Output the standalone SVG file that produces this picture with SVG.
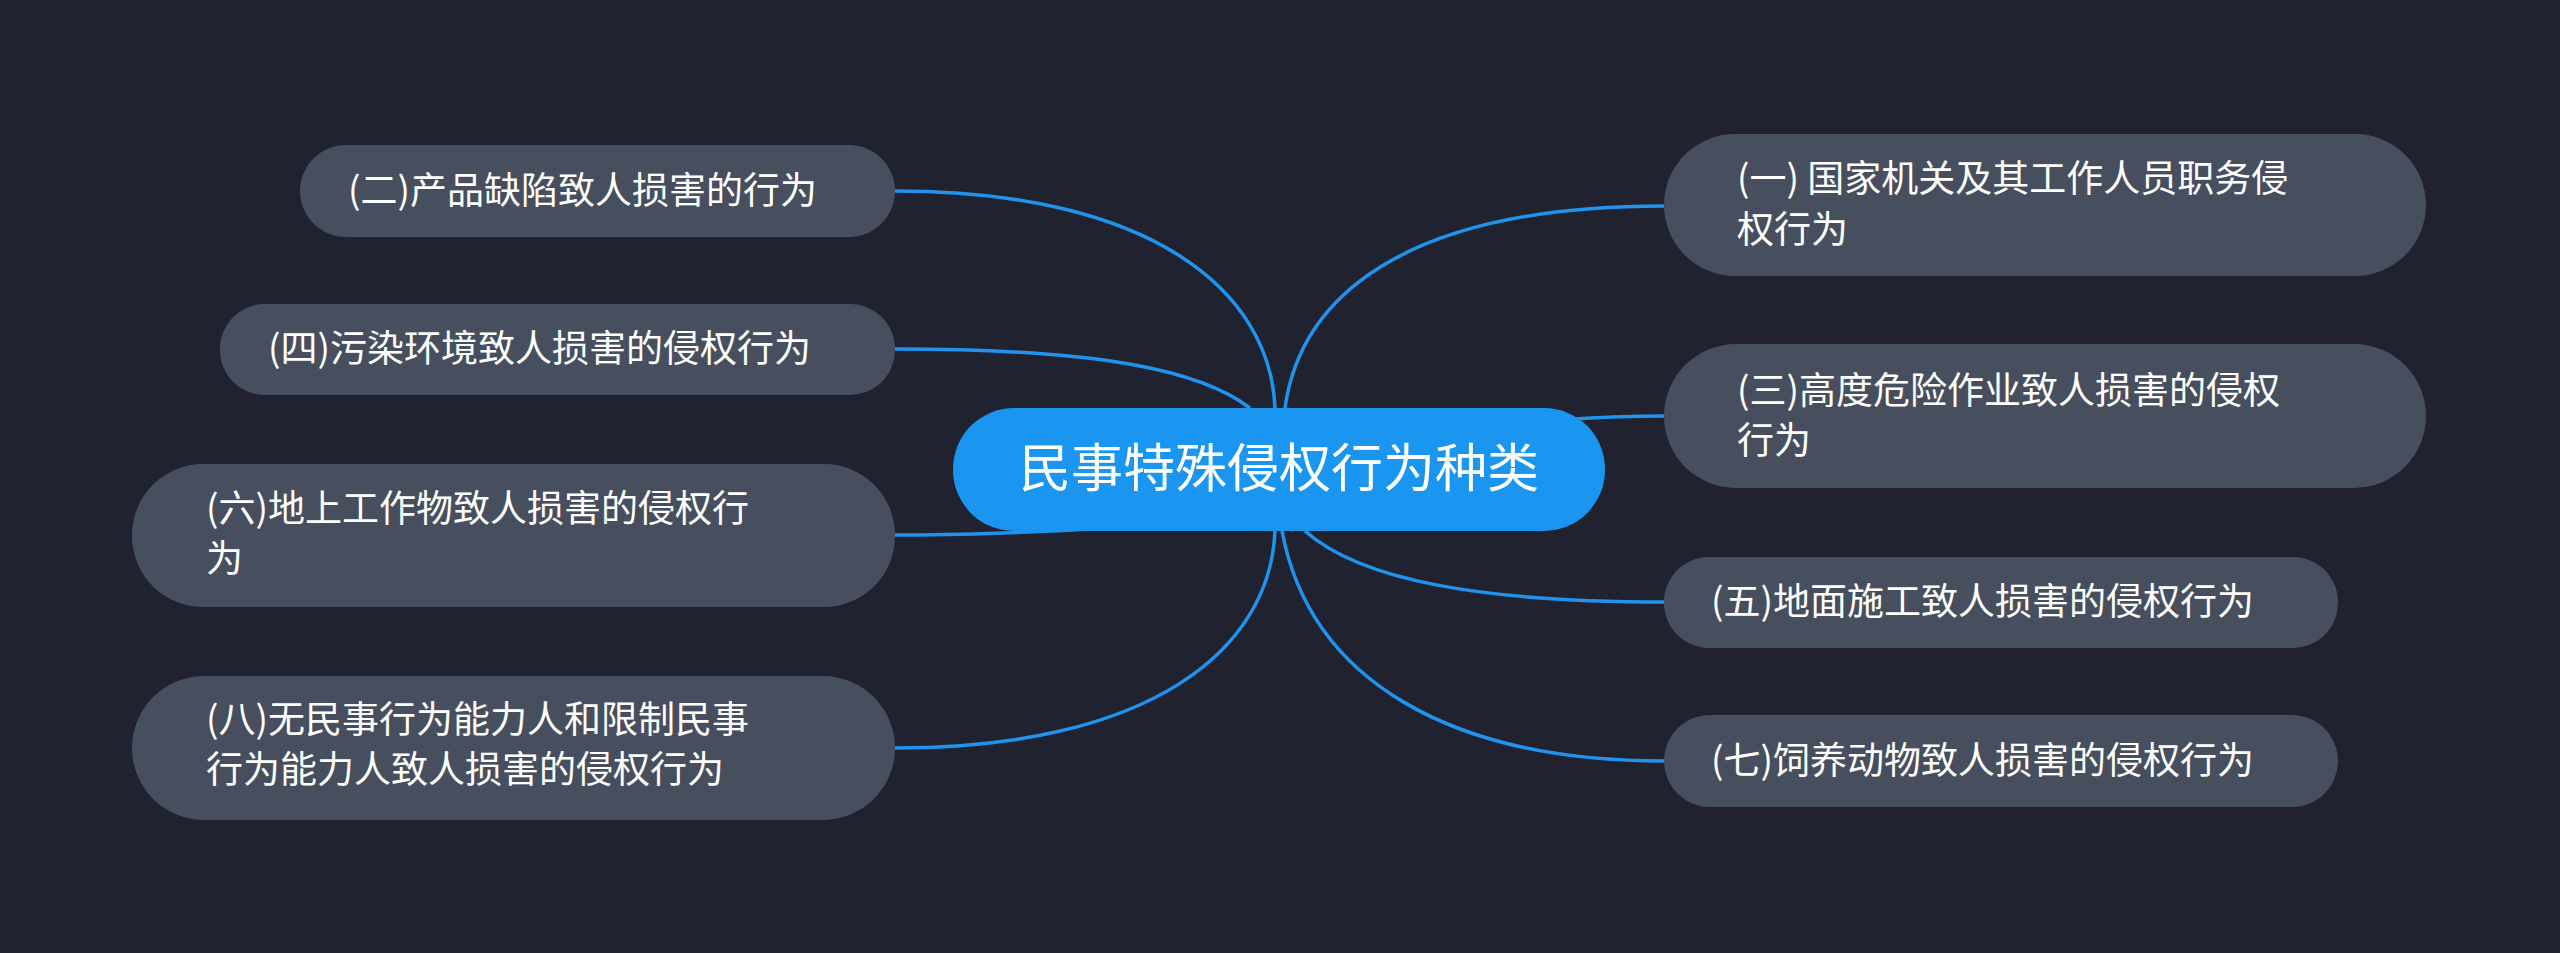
<svg xmlns="http://www.w3.org/2000/svg" width="2560" height="953" viewBox="0 0 2560 953">
<style>
.e{fill:none;stroke:#1f93ee;stroke-width:3.5}
.n{fill:#474f5e}
.t{fill:#fff;font-family:"Noto Sans CJK SC","Liberation Sans",sans-serif;font-size:37px}
</style>
<rect width="2560" height="953" fill="#20232f"/>
<g id="connectors">
<path class="e" d="M1285 408 C1300 300,1400 206,1664 206"/>
<path class="e" d="M1560 420 C1600 417,1620 416,1664 416"/>
<path class="e" d="M1305 531 C1360 580,1480 602,1664 602"/>
<path class="e" d="M1282 531 C1310 680,1450 761,1664 761"/>
<path class="e" d="M895 191 C1150 191,1270 290,1275 408"/>
<path class="e" d="M895 349 C1100 349,1200 370,1250 408"/>
<path class="e" d="M895 535 C960 535,1050 532,1100 528"/>
<path class="e" d="M895 748 C1150 748,1270 650,1275 531"/>
</g>
<g id="center"><rect x="953" y="408" width="652" height="123" rx="61" fill="#1a96f0"/><text x="1279" y="487" text-anchor="middle" class="t" style="font-size:52px">民事特殊侵权行为种类</text></g>
<g id="n1"><rect class="n" x="1664" y="134" width="762" height="142" rx="71"/><text class="t" x="1737" y="192">(一) 国家机关及其工作人员职务侵</text><text class="t" x="1737" y="243">权行为</text></g>
<g id="n3"><rect class="n" x="1664" y="344" width="762" height="144" rx="72"/><text class="t" x="1737" y="404">(三)高度危险作业致人损害的侵权</text><text class="t" x="1737" y="454">行为</text></g>
<g id="n5"><rect class="n" x="1664" y="557" width="674" height="91" rx="45"/><text class="t" x="1711" y="615">(五)地面施工致人损害的侵权行为</text></g>
<g id="n7"><rect class="n" x="1664" y="715" width="674" height="92" rx="46"/><text class="t" x="1711" y="774">(七)饲养动物致人损害的侵权行为</text></g>
<g id="n2"><rect class="n" x="300" y="145" width="595" height="92" rx="46"/><text class="t" x="348" y="204">(二)产品缺陷致人损害的行为</text></g>
<g id="n4"><rect class="n" x="220" y="304" width="675" height="91" rx="45"/><text class="t" x="268" y="362">(四)污染环境致人损害的侵权行为</text></g>
<g id="n6"><rect class="n" x="132" y="464" width="763" height="143" rx="71"/><text class="t" x="206" y="522">(六)地上工作物致人损害的侵权行</text><text class="t" x="206" y="572">为</text></g>
<g id="n8"><rect class="n" x="132" y="676" width="763" height="144" rx="72"/><text class="t" x="206" y="733">(八)无民事行为能力人和限制民事</text><text class="t" x="206" y="783">行为能力人致人损害的侵权行为</text></g>
</svg>
